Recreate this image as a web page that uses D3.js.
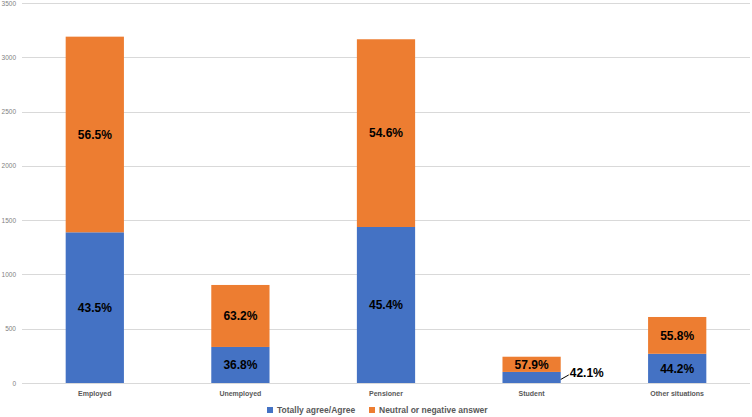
<!DOCTYPE html>
<html>
<head>
<meta charset="utf-8">
<script src="https://cdn.jsdelivr.net/npm/d3@7"></script>
<style>
  body { margin: 0; background: #fff; }
  svg { display: block; font-family: "Liberation Sans", Arial, sans-serif; }
</style>
</head>
<body>
<div id="chart"></div>
<script>
// values
var categories = ['Employed', 'Unemployed', 'Pensioner', 'Student', 'Other situations'];
var agree = [1388, 332, 1437, 102, 269];
var neutral = [1802, 571, 1729, 140, 339];
var seriesNames = ['Totally agree/Agree', 'Neutral or negative answer'];
var colors = ['#4472C4', '#ED7D31'];
var yTicks = [0, 500, 1000, 1500, 2000, 2500, 3000, 3500];

var width = 752, height = 417;

var svg = d3.select('#chart')
    .append('svg')
    .attr('width', width)
    .attr('height', height);

var x = d3.scaleBand()
    .domain(categories)
    .range([22, 750])
    .paddingInner(0.6)
    .paddingOuter(0.3);

var y = d3.scaleLinear()
    .domain([0, 3500])
    .range([383, 3]);

// gridlines
svg.append('g')
    .selectAll('line')
    .data(yTicks)
    .enter()
    .append('line')
    .attr('x1', 22)
    .attr('x2', 750)
    .attr('y1', function(d){ return Math.round(y(d)) + 0.5; })
    .attr('y2', function(d){ return Math.round(y(d)) + 0.5; })
    .attr('stroke', '#d9d9d9')
    .attr('stroke-width', 1);

// y axis labels
var yAxis = d3.axisLeft(y).tickValues(yTicks).tickFormat(d3.format('d')).tickSize(0).tickPadding(0);
var yg = svg.append('g')
    .attr('transform', 'translate(16,0)')
    .call(yAxis);
yg.select('.domain').remove();
yg.selectAll('text')
    .attr('fill', '#7f7f7f')
    .style('font-size', '6.5px');

// stack the data
var rows = categories.map(function(c, i){
    return { cat: c, a: agree[i], n: neutral[i] };
});
var stack = d3.stack().keys(['a', 'n']);
var layers = stack(rows);

var groups = svg.selectAll('g.layer')
    .data(layers)
    .enter()
    .append('g')
    .attr('class', 'layer')
    .attr('fill', function(d, i){ return colors[i]; });

groups.selectAll('rect')
    .data(function(d){ return d; })
    .enter()
    .append('rect')
    .attr('x', function(d){ return x(d.data.cat); })
    .attr('width', x.bandwidth())
    .attr('y', function(d){ return y(d[1]); })
    .attr('height', function(d){ return y(d[0]) - y(d[1]); });

// percent labels
function pct(v, d){
    return (v / (d.data.a + d.data.n) * 100).toFixed(1) + '%';
}
function isOutside(d, li){
    return li === 0 && (y(d[0]) - y(d[1])) < 16;
}

groups.each(function(layer, li){
    d3.select(this).selectAll('text')
        .data(layer)
        .enter()
        .append('text')
        .attr('x', function(d){
            return isOutside(d, li) ? x(d.data.cat) + x.bandwidth() + 9 : x(d.data.cat) + x.bandwidth() / 2;
        })
        .attr('y', function(d){
            return isOutside(d, li) ? y(d[1]) + 1 : (y(d[0]) + y(d[1])) / 2;
        })
        .attr('dy', '0.35em')
        .attr('text-anchor', function(d){ return isOutside(d, li) ? 'start' : 'middle'; })
        .attr('fill', '#000')
        .style('font-size', '12px')
        .style('font-weight', 'bold')
        .text(function(d){ return pct(d[1] - d[0], d); });

    // leader line for small outside labels
    d3.select(this).selectAll('line')
        .data(layer.filter(function(d){ return isOutside(d, li); }))
        .enter()
        .append('line')
        .attr('x1', function(d){ return x(d.data.cat) + x.bandwidth(); })
        .attr('y1', function(d){ return (y(d[0]) + y(d[1])) / 2 + 2; })
        .attr('x2', function(d){ return x(d.data.cat) + x.bandwidth() + 8; })
        .attr('y2', function(d){ return y(d[1]) + 3; })
        .attr('stroke', '#000')
        .attr('stroke-width', 1);
});

// category labels
svg.append('g')
    .selectAll('text')
    .data(categories)
    .enter()
    .append('text')
    .attr('x', function(d){ return x(d) + x.bandwidth() / 2; })
    .attr('y', 396)
    .attr('text-anchor', 'middle')
    .attr('fill', '#595959')
    .style('font-size', '7px')
    .style('font-weight', 'bold')
    .text(function(d){ return d; });

// legend
var legendX = [267, 369];
var legend = svg.append('g')
    .selectAll('g')
    .data(seriesNames)
    .enter()
    .append('g')
    .attr('transform', function(d, i){ return 'translate(' + legendX[i] + ',407)'; });

legend.append('rect')
    .attr('width', 6)
    .attr('height', 6)
    .attr('fill', function(d, i){ return colors[i]; });

legend.append('text')
    .attr('x', 10)
    .attr('y', 3)
    .attr('dy', '0.35em')
    .attr('fill', '#595959')
    .style('font-size', '8.5px')
    .style('font-weight', 'bold')
    .text(function(d){ return d; });
</script>
</body>
</html>
